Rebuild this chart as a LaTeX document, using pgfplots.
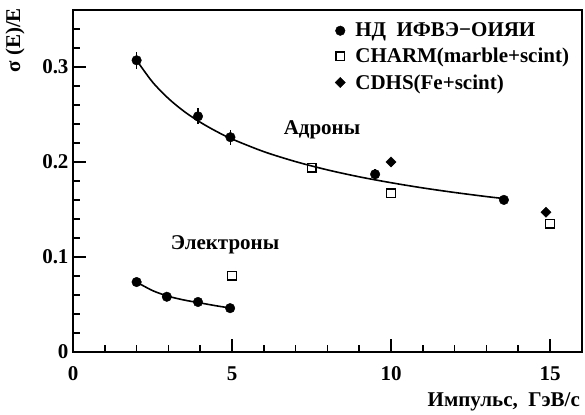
\documentclass[border=0pt]{standalone}
\usepackage{pgfplots}
\pgfplotsset{compat=1.18}
\usepackage{fontspec}
\setmainfont{Liberation Serif}
\newcommand\lbl{\fontsize{21bp}{25bp}\selectfont\bfseries}

\begin{document}
\begin{tikzpicture}[font=\lbl]
\begin{axis}[
  scale only axis,
  width=509bp, height=342bp,
  xmin=0, xmax=16, ymin=0, ymax=0.36,
  clip=false,
  axis line style={line width=1.5bp},
  tick pos=left, tick align=inside,
  major tick length=13bp, minor tick length=7bp,
  every tick/.style={line width=1.5bp, black},
  xtick={0,5,10,15}, xticklabels={0,5,10,15},
  minor xtick={1,2,3,4,6,7,8,9,11,12,13,14},
  ytick={0,0.1,0.2,0.3}, yticklabels={0,0.1,0.2,0.3},
  minor ytick={0.02,0.04,0.06,0.08,0.12,0.14,0.16,0.18,0.22,0.24,0.26,0.28,0.32,0.34},
  xticklabel style={font=\lbl, yshift=-11bp},
  yticklabel style={font=\lbl, xshift=-1bp},
  legend style={draw=none, fill=none, font=\lbl,
    at={(rel axis cs:0.509,0.974)}, anchor=north west,
    row sep=6bp},
  legend cell align=left,
]
% fit curves
\addplot[line width=1.6bp, smooth, no marks, forget plot] coordinates {
  (2,0.307) (2.5,0.2841) (3,0.2668) (3.5,0.2530) (4,0.2418) (4.5,0.2323)
  (5,0.2241) (6,0.2108) (7,0.2003) (8,0.1916) (9,0.1843) (10,0.1781)
  (11,0.1726) (12,0.1678) (13,0.1635) (13.5,0.1616)};
\addplot[line width=1.6bp, smooth, no marks, forget plot] coordinates {
  (2,0.0735) (2.5,0.0645) (3,0.0585) (3.5,0.0545) (4,0.0515) (4.5,0.0485) (4.94,0.0462)};

% IHEP-JINR hadrons
\addplot[only marks, mark=*, mark size=4.8bp, black,
  error bars/.cd, y dir=both, y explicit,
  error bar style={line width=1.4bp}, error mark=none]
  coordinates {
  (2,0.307) +- (0,0.009)
  (3.93,0.248) +- (0,0.0085)
  (4.95,0.226) +- (0,0.008)
  (9.5,0.187) +- (0,0.006)
  (13.55,0.160) +- (0,0.003)};
\addlegendentry{\hspace{8bp}НД\ \ ИФВЭ−ОИЯИ}
% IHEP-JINR electrons
\addplot[only marks, mark=*, mark size=4.8bp, black, forget plot] coordinates {
  (2,0.0735) (2.95,0.058) (3.93,0.0525) (4.94,0.046)};

% CHARM
\addplot[only marks, mark=square, mark size=4.3bp, black,
  mark options={line width=1.4bp}] coordinates {
  (5,0.080) (7.5,0.194) (10,0.167) (15,0.135)};
\addlegendentry{\hspace{8bp}CHARM(marble+scint)}

% CDHS
\addplot[only marks, mark=square*, mark size=3.6bp, black,
  mark options={rotate=45}] coordinates {
  (10,0.200) (14.87,0.147)};
\addlegendentry{\hspace{8bp}CDHS(Fe+scint)}

\node at (axis cs:7.83,0.234) {Адроны};
\node at (axis cs:4.78,0.1126) {Электроны};
\node[rotate=90] at (axis cs:-1.82,0.328) {σ (E)/E};
\node[anchor=east] at (axis cs:16.05,-0.053) {Импульс,\ \ ГэВ/с};

% page extent
\path (axis cs:-2.296,0.3705) rectangle (axis cs:16.10,-0.0632);
\end{axis}
\end{tikzpicture}
\end{document}
